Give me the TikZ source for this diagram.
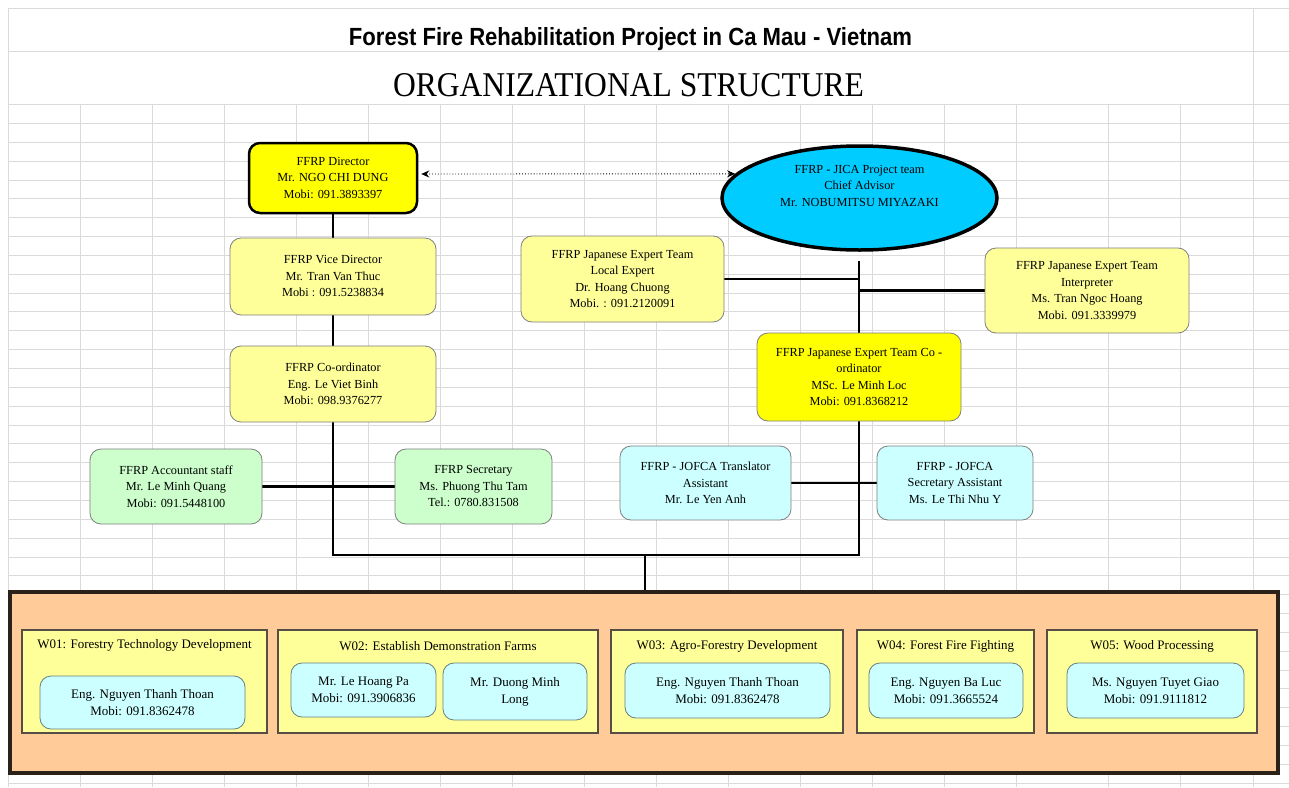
\documentclass[tikz,border=0pt]{standalone}
\usepackage{fontspec}
\setmainfont{Liberation Serif}
\setsansfont{Liberation Sans}
\usetikzlibrary{shapes.geometric,arrows.meta,calc,backgrounds}
\definecolor{Yel}{HTML}{FFFF00}
\definecolor{LYel}{HTML}{FFFF99}
\definecolor{LGrn}{HTML}{CCFFCC}
\definecolor{LCyan}{HTML}{CCFFFF}
\definecolor{Cyan}{HTML}{00CCFF}
\definecolor{Peach}{HTML}{FFCC99}
\definecolor{GridC}{HTML}{DADADA}
\definecolor{Edge}{HTML}{7F7F7F}
\definecolor{DarkB}{HTML}{2A2118}
\tikzset{
  orgbox/.style={draw=Edge, line width=0.8pt, rounded corners=11pt, align=center,
    font=\fontsize{12.3}{16.5}\selectfont, inner sep=2pt},
  yelbox/.style={orgbox, fill=LYel},
  grnbox/.style={orgbox, fill=LGrn},
  cyanbox/.style={orgbox, fill=LCyan},
  keybox/.style={orgbox, fill=Yel},
  wpbox/.style={draw=DarkB!80, line width=1.8pt, fill=LYel},
  wptitle/.style={font=\fontsize{13}{15}\selectfont, inner sep=0pt},
  wpinner/.style={orgbox, fill=LCyan, draw=Edge!80!teal, font=\fontsize{13}{17}\selectfont},
  link/.style={line width=2.3pt, black},
  gridline/.style={GridC, line width=0.8pt}
}
\begin{document}
\begin{tikzpicture}[x=1pt,y=-1pt]
\useasboundingbox (0,0) rectangle (1289,787);

% grid
\begin{pgfonlayer}{background}
\fill[white] (0,0) rectangle (1289,787);
\foreach \yy in {8,51} \draw[gridline] (8,\yy) -- (1289,\yy);
\foreach \k in {0,...,36} \draw[gridline] (8,{104.5+18.85*\k}) -- (1289,{104.5+18.85*\k});
\foreach \xx in {80,152,224,296,368,440,512,584,656,728,800,872,944,1016,1108,1180}
  \draw[gridline] (\xx,104) -- (\xx,787);
\draw[gridline] (8,8) -- (8,787);
\draw[gridline] (1253,8) -- (1253,787);
\end{pgfonlayer}

% titles
\node[inner sep=0pt] (title) at (630.5,39) {\resizebox{563pt}{18pt}{\sffamily\bfseries Forest Fire Rehabilitation Project in Ca Mau - Vietnam}};
\node[inner sep=0pt] (subtitle) at (628.5,85.5) {\resizebox{471pt}{23pt}{ORGANIZATIONAL STRUCTURE}};

% Vietnamese side
\node[keybox, draw=black, line width=2.5pt, minimum width=168pt, minimum height=70pt] (dir) at (333,178)
  {FFRP Director\\Mr. NGO CHI DUNG\\Mobi: 091.3893397};
\node[yelbox, minimum width=206pt, minimum height=77pt] (vice) at (333,276.5)
  {FFRP Vice Director\\Mr. Tran Van Thuc\\Mobi : 091.5238834};
\node[yelbox, minimum width=206pt, minimum height=76pt] (coord) at (333,384)
  {FFRP Co-ordinator\\Eng. Le Viet Binh\\Mobi: 098.9376277};
\node[grnbox, minimum width=172pt, minimum height=75pt] (acct) at (176,486.5)
  {FFRP Accountant staff\\Mr. Le Minh Quang\\Mobi: 091.5448100};
\node[grnbox, minimum width=157pt, minimum height=75pt] (sec) at (473.5,486.5)
  {FFRP Secretary\\Ms. Phuong Thu Tam\\Tel.: 0780.831508};

% Japanese side
\node[ellipse, draw=black, line width=3.5pt, fill=Cyan, minimum width=275pt, minimum height=104pt] (jica) at (859.5,198) {};
\node[align=center, font=\fontsize{12.3}{16.5}\selectfont, inner sep=0pt] (jicatext) at (859.5,186)
  {FFRP - JICA Project team\\Chief Advisor\\Mr. NOBUMITSU MIYAZAKI};
\node[yelbox, minimum width=203pt, minimum height=86pt] (local) at (622.5,279)
  {FFRP Japanese Expert Team\\Local Expert\\Dr. Hoang Chuong\\Mobi. : 091.2120091};
\node[yelbox, minimum width=204pt, minimum height=85pt] (interp) at (1087,290.5)
  {FFRP Japanese Expert Team\\Interpreter\\Ms. Tran Ngoc Hoang\\Mobi. 091.3339979};
\node[keybox, minimum width=204pt, minimum height=88pt] (jpcoord) at (859,377)
  {FFRP Japanese Expert Team Co -\\ordinator\\MSc. Le Minh Loc\\Mobi: 091.8368212};
\node[cyanbox, minimum width=171pt, minimum height=74pt] (trans) at (705.5,483)
  {FFRP - JOFCA Translator\\Assistant\\Mr. Le Yen Anh};
\node[cyanbox, minimum width=156pt, minimum height=74pt] (secas) at (955,483)
  {FFRP - JOFCA\\Secretary Assistant\\Ms. Le Thi Nhu Y};

% bottom work packages
\node[draw=DarkB, line width=4pt, fill=Peach, minimum width=1268pt, minimum height=181pt, inner sep=0pt] (wp) at (644,682.5) {};
\node[wpbox, minimum width=245pt, minimum height=103pt, inner sep=0pt] (w1) at (144.5,681.5) {};
\node[wpbox, minimum width=320pt, minimum height=103pt, inner sep=0pt] (w2) at (438,681.5) {};
\node[wpbox, minimum width=232pt, minimum height=103pt, inner sep=0pt] (w3) at (727,681.5) {};
\node[wpbox, minimum width=177pt, minimum height=103pt, inner sep=0pt] (w4) at (945.5,681.5) {};
\node[wpbox, minimum width=210pt, minimum height=103pt, inner sep=0pt] (w5) at (1152,681.5) {};
\node[wptitle] (w1t) at (144.5,645) {W01: Forestry Technology Development};
\node[wptitle] (w2t) at (438,646) {W02: Establish Demonstration Farms};
\node[wptitle] (w3t) at (727,646) {W03: Agro-Forestry Development};
\node[wptitle] (w4t) at (945.5,646) {W04: Forest Fire Fighting};
\node[wptitle] (w5t) at (1152,646) {W05: Wood Processing};
\node[wpinner, minimum width=205pt, minimum height=53pt] (w1a) at (142.5,702.5)
  {Eng. Nguyen Thanh Thoan\\Mobi: 091.8362478};
\node[wpinner, minimum width=145pt, minimum height=54pt] (w2a) at (363.5,690)
  {Mr. Le Hoang Pa\\Mobi: 091.3906836};
\node[wpinner, minimum width=144pt, minimum height=57pt] (w2b) at (515,691.5)
  {Mr. Duong Minh\\Long};
\node[wpinner, minimum width=205pt, minimum height=55pt] (w3a) at (727.5,690.5)
  {Eng. Nguyen Thanh Thoan\\Mobi: 091.8362478};
\node[wpinner, minimum width=154pt, minimum height=55pt] (w4a) at (946,690.5)
  {Eng. Nguyen Ba Luc\\Mobi: 091.3665524};
\node[wpinner, minimum width=177pt, minimum height=55pt] (w5a) at (1155.5,690.5)
  {Ms. Nguyen Tuyet Giao\\Mobi: 091.9111812};

% connectors
\coordinate (sptop) at (859,261);
\coordinate (spbot) at (859,555);
\coordinate (drop) at (645,555);
\begin{pgfonlayer}{background}
\draw[link] (dir.south) -- (vice.north);
\draw[link] (vice.south) -- (coord.north);
\draw[link] (coord.south) -- (coord.south |- spbot) -- (spbot) -- (sptop);
\draw[link] (drop) -- (drop |- wp.north);
\draw[link] (local.east) -- (local.east -| sptop);
\draw[link, line width=2.8pt] (interp.west) -- (interp.west -| sptop);
\draw[link] (acct.east) -- (sec.west);
\draw[link] (trans.east) -- (secas.west);
\end{pgfonlayer}
\draw[dotted, line width=0.9pt, {Stealth[length=8pt,width=7pt]}-{Stealth[length=8pt,width=7pt]}, shorten <=3pt]
  ([yshift=4pt]dir.east) -- (jica.169);
\end{tikzpicture}
\end{document}
